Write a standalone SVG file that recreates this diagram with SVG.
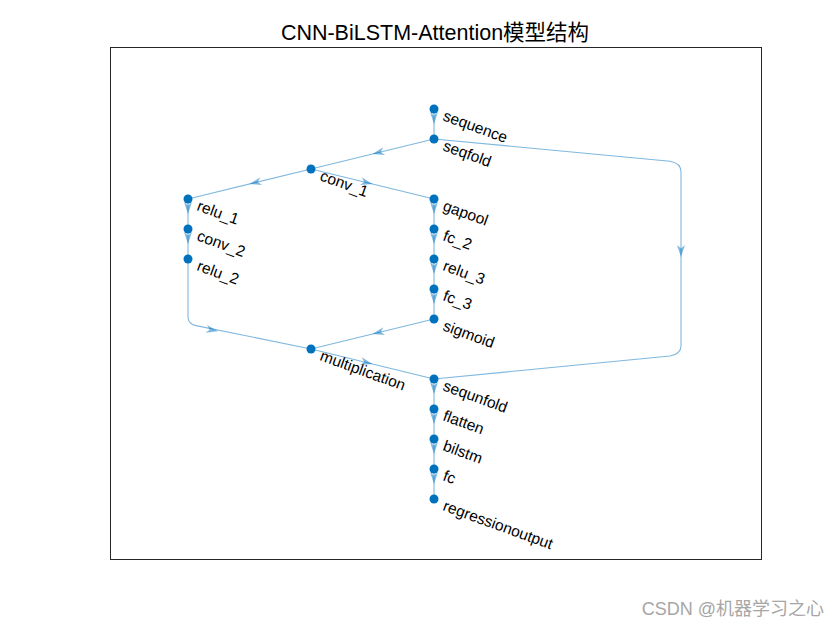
<svg xmlns="http://www.w3.org/2000/svg" xmlns:xlink="http://www.w3.org/1999/xlink" width="840" height="630" viewBox="0 0 840 630">
<defs>
<style>
.edge{fill:none;stroke:#0072BD;stroke-opacity:0.5;stroke-width:1.1}
.ah{fill:#0072BD;fill-opacity:0.5;stroke:none}
.nd{fill:#0072BD}
.lb{font-family:"Liberation Sans",Arial,sans-serif;font-size:15.5px;fill:#000}
.title{font-family:"Liberation Sans","Noto Sans CJK SC",sans-serif;font-size:21.5px;fill:#000}
.wm{font-family:"Liberation Sans","Noto Sans CJK SC",sans-serif;font-size:18px;fill:#a6a6a6}
</style>
<path id="ah" d="M0,0 L-12,-4 L-8.5,0 L-12,4 Z"/>
</defs>
<rect x="0" y="0" width="840" height="630" fill="#fff"/>
<rect x="110.5" y="47.5" width="651" height="512" fill="none" stroke="#262626" stroke-width="1"/>
<text class="title" x="435" y="40" text-anchor="middle">CNN-BiLSTM-Attention模型结构</text>
<g id="connectors">
<path class="edge" d="M434,109 L434,139"/>
<path class="edge" d="M434,139 L311,169"/>
<path class="edge" d="M311,169 L188,199"/>
<path class="edge" d="M311,169 L434,199"/>
<path class="edge" d="M188,199 L188,259"/>
<path class="edge" d="M188,259 L188,317 Q188,324 196,325.6 L311,349"/>
<path class="edge" d="M434,199 L434,319"/>
<path class="edge" d="M434,319 L311,349"/>
<path class="edge" d="M311,349 L434,379"/>
<path class="edge" d="M434,139 L670,161.2 Q681,163 681,172 L681,346 Q681,354 670,356 L434,379"/>
<path class="edge" d="M434,379 L434,499"/>
<g class="ah">
<use xlink:href="#ah" transform="translate(434,124) rotate(90)"/>
<use xlink:href="#ah" transform="translate(372.5,154) rotate(166.3)"/>
<use xlink:href="#ah" transform="translate(249.5,184) rotate(166.3)"/>
<use xlink:href="#ah" transform="translate(372.5,184) rotate(13.7)"/>
<use xlink:href="#ah" transform="translate(188,214) rotate(90)"/>
<use xlink:href="#ah" transform="translate(188,244) rotate(90)"/>
<use xlink:href="#ah" transform="translate(218,331.3) rotate(11.3)"/>
<use xlink:href="#ah" transform="translate(434,214) rotate(90)"/>
<use xlink:href="#ah" transform="translate(434,244) rotate(90)"/>
<use xlink:href="#ah" transform="translate(434,274) rotate(90)"/>
<use xlink:href="#ah" transform="translate(434,304) rotate(90)"/>
<use xlink:href="#ah" transform="translate(372.5,334) rotate(166.3)"/>
<use xlink:href="#ah" transform="translate(372.5,364) rotate(13.7)"/>
<use xlink:href="#ah" transform="translate(681,257) rotate(90)"/>
<use xlink:href="#ah" transform="translate(434,394) rotate(90)"/>
<use xlink:href="#ah" transform="translate(434,424) rotate(90)"/>
<use xlink:href="#ah" transform="translate(434,454) rotate(90)"/>
<use xlink:href="#ah" transform="translate(434,484) rotate(90)"/>
</g>
</g>
<g id="n-sequence"><circle class="nd" cx="434" cy="109" r="4.5"/><text class="lb" transform="translate(442,120) rotate(20)">sequence</text></g>
<g id="n-seqfold"><circle class="nd" cx="434" cy="139" r="4.5"/><text class="lb" transform="translate(442,150) rotate(20)">seqfold</text></g>
<g id="n-conv_1"><circle class="nd" cx="311" cy="169" r="4.5"/><text class="lb" transform="translate(319,180) rotate(20)">conv_1</text></g>
<g id="n-relu_1"><circle class="nd" cx="188" cy="199" r="4.5"/><text class="lb" transform="translate(196,210) rotate(20)">relu_1</text></g>
<g id="n-conv_2"><circle class="nd" cx="188" cy="229" r="4.5"/><text class="lb" transform="translate(196,240) rotate(20)">conv_2</text></g>
<g id="n-relu_2"><circle class="nd" cx="188" cy="259" r="4.5"/><text class="lb" transform="translate(196,270) rotate(20)">relu_2</text></g>
<g id="n-gapool"><circle class="nd" cx="434" cy="199" r="4.5"/><text class="lb" transform="translate(442,210) rotate(20)">gapool</text></g>
<g id="n-fc_2"><circle class="nd" cx="434" cy="229" r="4.5"/><text class="lb" transform="translate(442,240) rotate(20)">fc_2</text></g>
<g id="n-relu_3"><circle class="nd" cx="434" cy="259" r="4.5"/><text class="lb" transform="translate(442,270) rotate(20)">relu_3</text></g>
<g id="n-fc_3"><circle class="nd" cx="434" cy="289" r="4.5"/><text class="lb" transform="translate(442,300) rotate(20)">fc_3</text></g>
<g id="n-sigmoid"><circle class="nd" cx="434" cy="319" r="4.5"/><text class="lb" transform="translate(442,330) rotate(20)">sigmoid</text></g>
<g id="n-multiplication"><circle class="nd" cx="311" cy="349" r="4.5"/><text class="lb" transform="translate(319,360) rotate(20)">multiplication</text></g>
<g id="n-sequnfold"><circle class="nd" cx="434" cy="379" r="4.5"/><text class="lb" transform="translate(442,390) rotate(20)">sequnfold</text></g>
<g id="n-flatten"><circle class="nd" cx="434" cy="409" r="4.5"/><text class="lb" transform="translate(442,420) rotate(20)">flatten</text></g>
<g id="n-bilstm"><circle class="nd" cx="434" cy="439" r="4.5"/><text class="lb" transform="translate(442,450) rotate(20)">bilstm</text></g>
<g id="n-fc"><circle class="nd" cx="434" cy="469" r="4.5"/><text class="lb" transform="translate(442,480) rotate(20)">fc</text></g>
<g id="n-regressionoutput"><circle class="nd" cx="434" cy="499" r="4.5"/><text class="lb" transform="translate(442,510) rotate(20)">regressionoutput</text></g>
<text class="wm" x="824" y="615" text-anchor="end">CSDN @机器学习之心</text>
</svg>
